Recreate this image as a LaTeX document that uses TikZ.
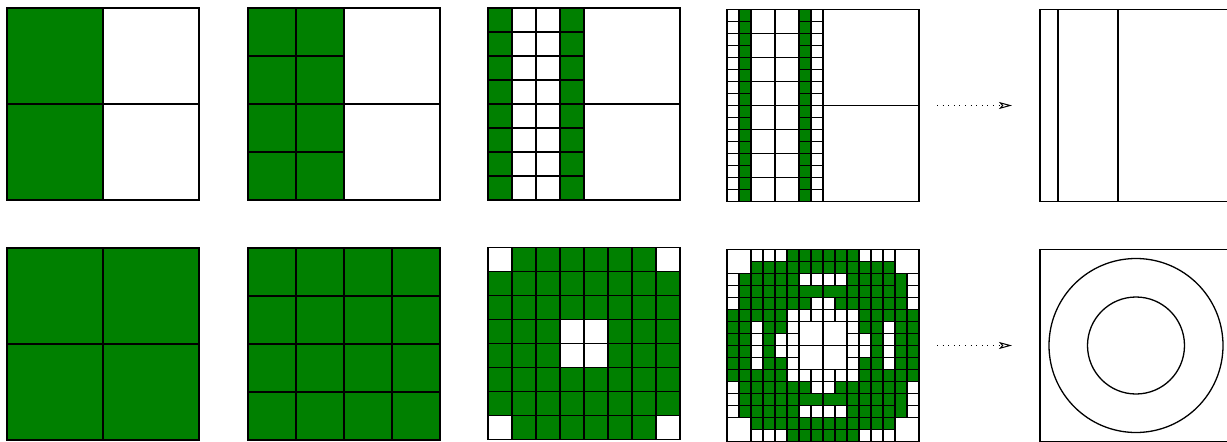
\documentclass[tikz,border=0pt]{standalone}
\usetikzlibrary{arrows.meta}
\definecolor{cG}{RGB}{0,128,0}
\colorlet{cW}{white}
\begin{document}
\begin{tikzpicture}[x=1pt,y=-1pt,line width=1.3pt,
  cellG/.style={draw=black,fill=cG},
  cellW/.style={draw=black,fill=white},
  frame/.style={draw=black},
  flow/.style={line width=1pt,dash pattern=on 1pt off 4.6pt,
    -{Stealth[open,length=13pt,width=7pt,inset=3pt,line width=1pt]}}]
\useasboundingbox (0,0) rectangle (1227,442);
\clip (0,0) rectangle (1227,442);
% ---------- top row ----------
\begin{scope}[shift={(7,8)}]
  \path[cellG] (0,0) rectangle ++(96,96);
  \path[cellG] (0,96) rectangle ++(96,96);
  \path[cellW] (96,0) rectangle ++(96,96);
  \path[cellW] (96,96) rectangle ++(96,96);
\end{scope}
\begin{scope}[shift={(248,8)}]
  \foreach \i in {0,1} \foreach \j in {0,1,2,3} \path[cellG] (\i*48,\j*48) rectangle ++(48,48);
  \path[cellW] (96,0) rectangle ++(96,96);
  \path[cellW] (96,96) rectangle ++(96,96);
\end{scope}
\begin{scope}[shift={(488,8)}]
  \foreach \j in {0,...,7} {
    \path[cellG] (0,\j*24) rectangle ++(24,24);
    \path[cellW] (24,\j*24) rectangle ++(24,24);
    \path[cellW] (48,\j*24) rectangle ++(24,24);
    \path[cellG] (72,\j*24) rectangle ++(24,24);
  }
  \path[cellW] (96,0) rectangle ++(96,96);
  \path[cellW] (96,96) rectangle ++(96,96);
\end{scope}
\begin{scope}[shift={(727,9.5)}]
  \foreach \j in {0,...,15} {
    \path[cellW] (0,\j*12) rectangle ++(12,12);
    \path[cellG] (12,\j*12) rectangle ++(12,12);
    \path[cellG] (72,\j*12) rectangle ++(12,12);
    \path[cellW] (84,\j*12) rectangle ++(12,12);
  }
  \foreach \j in {0,...,7} {
    \path[cellW] (24,\j*24) rectangle ++(24,24);
    \path[cellW] (48,\j*24) rectangle ++(24,24);
  }
  \path[cellW] (96,0) rectangle ++(96,96);
  \path[cellW] (96,96) rectangle ++(96,96);
\end{scope}
\begin{scope}[shift={(1040,9.5)}]
  \path[frame] (0,0) rectangle (192,192);
  \path[frame] (18,0) -- (18,192);
  \path[frame] (78,0) -- (78,192);
\end{scope}
% ---------- bottom row ----------
\begin{scope}[shift={(7,248)}]
  \foreach \i in {0,1} \foreach \j in {0,1} \path[cellG] (\i*96,\j*96) rectangle ++(96,96);
\end{scope}
\begin{scope}[shift={(248,248)}]
  \foreach \i in {0,...,3} \foreach \j in {0,...,3} \path[cellG] (\i*48,\j*48) rectangle ++(48,48);
\end{scope}
\begin{scope}[shift={(488,247.5)}]
  \foreach \row [count=\r from 0] in {
    {W,G,G,G,G,G,G,W},{G,G,G,G,G,G,G,G},{G,G,G,G,G,G,G,G},{G,G,G,W,W,G,G,G},
    {G,G,G,W,W,G,G,G},{G,G,G,G,G,G,G,G},{G,G,G,G,G,G,G,G},{W,G,G,G,G,G,G,W}} {
    \foreach \c [count=\k from 0] in \row {
      \path[draw=black,fill=c\c] (\k*24,\r*24) rectangle ++(24,24);
    }
  }
\end{scope}
\begin{scope}[shift={(727,249.5)}]
  \foreach \row [count=\r from 0] in {
    {X,X,W,W,W,G,G,G,G,G,G,W,W,W,X,X},
    {X,X,G,G,G,G,G,G,G,G,G,G,G,G,X,X},
    {W,G,G,G,G,G,W,W,W,W,G,G,G,G,X,W},
    {W,G,G,G,G,G,X,X,X,X,G,G,G,G,X,W},
    {W,G,G,G,G,G,G,W,W,G,G,G,G,G,G,W},
    {G,G,G,G,G,W,W,W,W,W,W,G,G,G,G,G},
    {G,G,W,G,G,W,X,X,X,X,W,G,G,W,G,G},
    {G,G,W,G,W,W,X,X,X,X,W,W,G,W,G,G},
    {G,G,W,G,W,W,X,X,X,X,W,W,G,W,G,G},
    {G,G,W,G,G,W,X,X,X,X,W,G,G,W,G,G},
    {G,G,G,G,G,W,W,W,W,W,W,G,G,G,G,G},
    {W,G,G,G,G,G,G,W,W,G,G,G,G,G,G,W},
    {W,G,G,G,G,G,X,X,X,X,G,G,G,G,X,W},
    {W,G,G,G,G,G,W,W,W,W,G,G,G,G,X,W},
    {X,X,G,G,G,G,G,G,G,G,G,G,G,G,X,X},
    {X,X,W,W,W,G,G,G,G,G,G,W,W,W,X,X}} {
    \foreach \c [count=\k from 0] in \row {
      \if\c X\else
        \path[draw=black,fill=c\c] (\k*12,\r*12) rectangle ++(12,12);
      \fi
    }
  }
  % coarse cells kept whole
  \foreach \p in {(0,0),(168,0),(0,168),(168,168),(72,72),(96,72),(72,96),(96,96)}
    \path[cellW] \p rectangle ++(24,24);
  \foreach \p in {(72,36),(96,36),(72,144),(96,144)}
    \path[cellG] \p rectangle ++(24,12);
  \foreach \p in {(168,24),(168,144)}
    \path[cellG] \p rectangle ++(12,24);
\end{scope}
\begin{scope}[shift={(1040,249.5)}]
  \path[frame] (0,0) rectangle (192,192);
  \path[frame] (96,96) circle[radius=87pt];
  \path[frame] (96,96) circle[radius=48.5pt];
\end{scope}
% ---------- arrows ----------
\coordinate (a1s) at (937,105.5);
\coordinate (a1e) at (1012,105.5);
\coordinate (a2s) at (937,345.5);
\coordinate (a2e) at (1012,345.5);
\draw[flow] (a1s) -- (a1e);
\draw[flow] (a2s) -- (a2e);
\end{tikzpicture}
\end{document}
